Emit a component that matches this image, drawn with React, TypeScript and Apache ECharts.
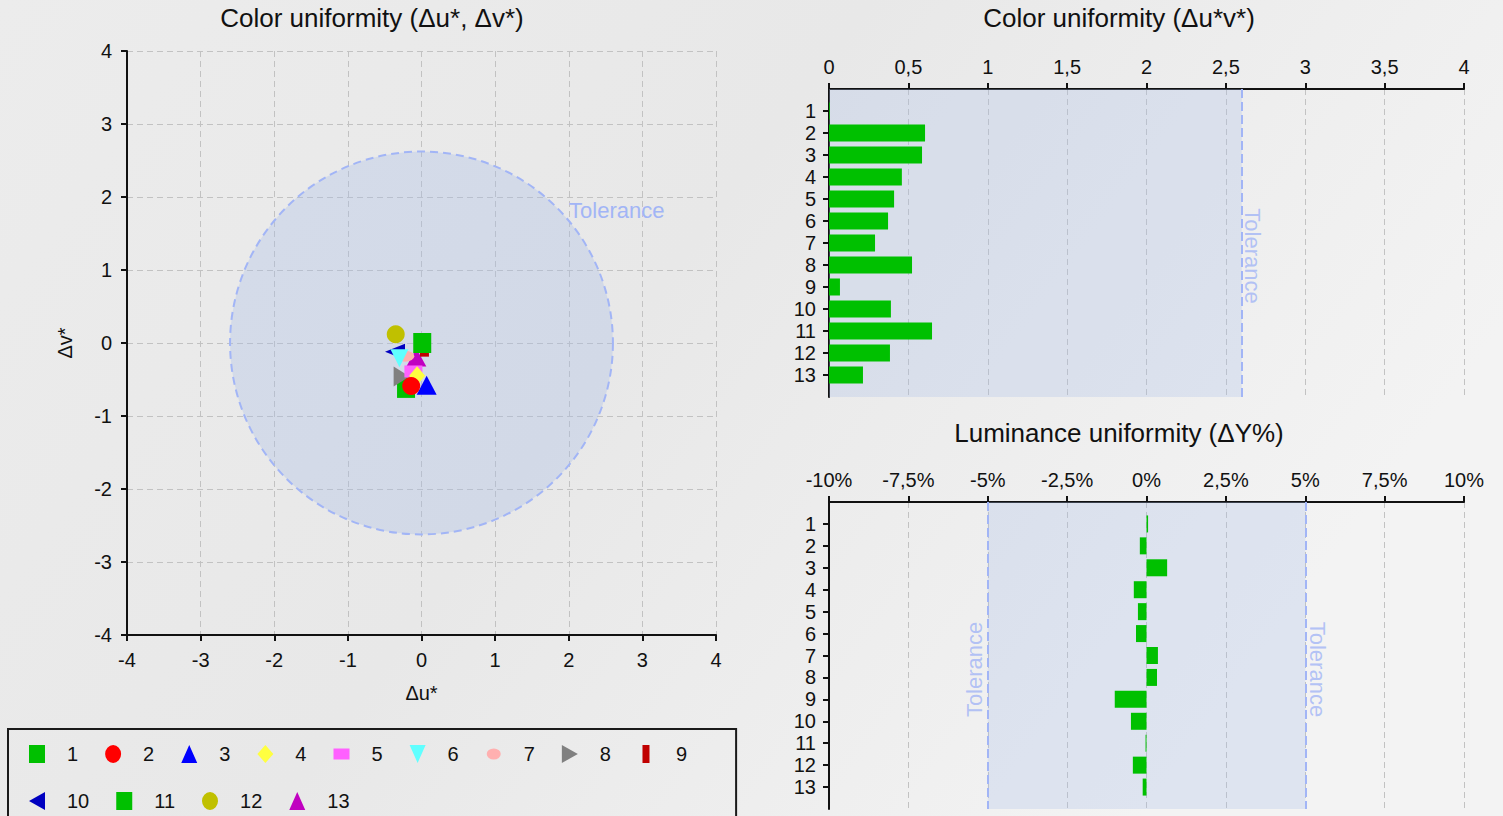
import React, { useEffect, useRef } from 'react';
import * as echarts from 'echarts';

// ---------- data ----------
const pointNames = ['1', '2', '3', '4', '5', '6', '7', '8', '9', '10', '11', '12', '13'];
const duValues = [0.01, -0.14, 0.07, -0.06, -0.11, -0.3, -0.22, -0.27, 0.04, -0.36, -0.21, -0.35, -0.07];
const dvValues = [0.0, -0.59, -0.58, -0.45, -0.39, -0.21, -0.18, -0.46, -0.05, -0.12, -0.615, 0.12, -0.2];
const duvValues = [0.005, 0.605, 0.586, 0.459, 0.41, 0.372, 0.29, 0.523, 0.069, 0.39, 0.649, 0.384, 0.214];
const dYValues = [0.05, -0.21, 0.65, -0.4, -0.27, -0.33, 0.36, 0.33, -1.0, -0.49, -0.03, -0.43, -0.12];
const pointColors = ['#00c000', '#ff0000', '#0000ff', '#ffff40', '#ff60ff', '#60ffff', '#ffb0b0', '#808080', '#c00000', '#0000c0', '#00c000', '#c0c000', '#c000c0'];
const colorTolerance = 2.6;
const lumTolerance = 5;

// ---------- styling ----------
const F = '"Liberation Sans", Arial, sans-serif';
const TOL = '#a2b5f6';
const BAR = '#00c000';
const AREA = 'rgba(170,190,232,0.28)';

const SYM: Record<string, string> = {
  square: 'rect',
  circle: 'circle',
  triUp: 'triangle',
  diamond: 'diamond',
  rect: 'rect',
  triDown: 'path://M0,0L20,0L10,20Z',
  ellipse: 'path://M0,10A10,10,0,1,1,20,10A10,10,0,1,1,0,10Z',
  triRight: 'path://M0,0L20,10L0,20Z',
  triLeft: 'path://M20,0L0,10L20,20Z',
};
const pointShapes = ['square', 'circle', 'triUp', 'diamond', 'rect', 'triDown', 'ellipse', 'triRight', 'rect', 'triLeft', 'square', 'circle', 'triUp'];
const pointSizes: any[] = [[18, 20], 18, [20, 19], [16, 19], [18, 12], [18, 18], [18, 11], [16, 20], [9, 20], [20, 16], [18, 20], 18, [20, 18]];

const FRAME = 'M0,0L0,0.01M33,18L33,17.99';
const LEG: Record<string, string> = {
  square: 'M0,0L16,0L16,18L0,18Z',
  circle: 'M0,9A8,9,0,1,1,16,9A8,9,0,1,1,0,9Z',
  triUp: 'M8,0L16,18L0,18Z',
  diamond: 'M8,0L16,9L8,18L0,9Z',
  rect: 'M0,3.5L16,3.5L16,14.5L0,14.5Z',
  triDown: 'M0,0L16,0L8,18Z',
  ellipse: 'M1,9A7,5.5,0,1,1,15,9A7,5.5,0,1,1,1,9Z',
  triRight: 'M0,0L16,9L0,18Z',
  narrow: 'M4.5,0L11.5,0L11.5,18L4.5,18Z',
  triLeft: 'M16,0L0,9L16,18Z',
};
const legendShapes = ['square', 'circle', 'triUp', 'diamond', 'rect', 'triDown', 'ellipse', 'triRight', 'narrow', 'triLeft', 'square', 'circle', 'triUp'];

const catLabels = ['', ...pointNames, ''];
const fmtComma = (v: number) => String(v).replace('.', ',');

const axisLine = { show: true, onZero: false, lineStyle: { color: '#111', width: 2 } };
const splitLine = { show: true, lineStyle: { color: '#c2c2c2', type: [6, 4], width: 1 } };
const tick = { show: true, length: 6, lineStyle: { color: '#111', width: 2 } };
const lbl = { fontSize: 20, color: '#111', fontFamily: F };
const titleStyle = { fontSize: 26, fontWeight: 'normal', color: '#111', fontFamily: F };

export default function App() {
  const ref = useRef<HTMLDivElement>(null);
  useEffect(() => {
    document.body.style.margin = '0';
    const chart = echarts.init(ref.current!, null, { renderer: 'svg' });

    const scatterSeries = pointNames.map((n, i) => ({
      type: 'scatter',
      name: n,
      xAxisIndex: 0,
      yAxisIndex: 0,
      z: 30 - i,
      symbol: SYM[pointShapes[i]],
      symbolSize: pointSizes[i],
      itemStyle: { color: pointColors[i], opacity: 1 },
      data: [[duValues[i], dvValues[i]]],
    }));

    const option: any = {
      animation: false,
      backgroundColor: {
        type: 'linear', x: 0, y: 0, x2: 1, y2: 0.4,
        colorStops: [
          { offset: 0, color: '#ececec' },
          { offset: 0.5, color: '#e8e8e8' },
          { offset: 1, color: '#f3f3f3' },
        ],
      },
      textStyle: { fontFamily: F },
      title: [
        { text: 'Color uniformity (Δu*, Δv*)', left: 372, textAlign: 'center', top: 5, padding: 0, textStyle: titleStyle },
        { text: 'Color uniformity (Δu*v*)', left: 1119, textAlign: 'center', top: 5, padding: 0, textStyle: titleStyle },
        { text: 'Luminance uniformity (ΔY%)', left: 1119, textAlign: 'center', top: 420, padding: 0, textStyle: titleStyle },
      ],
      legend: {
        data: pointNames.map((n, i) => ({ name: n, icon: 'path://' + FRAME + LEG[legendShapes[i]] })),
        left: 8,
        top: 729,
        width: 690,
        orient: 'horizontal',
        itemWidth: 33,
        itemHeight: 18,
        itemGap: 27,
        symbolKeepAspect: true,
        padding: [15, 49, 20, 21],
        borderColor: '#1a1a1a',
        borderWidth: 2,
        selectedMode: false,
        textStyle: { fontSize: 20, lineHeight: 16, color: '#111', fontFamily: F },
      },
      grid: [
        { left: 127, top: 51, width: 589, height: 584 },
        { left: 829, top: 89, width: 635, height: 308 },
        { left: 829, top: 502, width: 635, height: 307 },
      ],
      xAxis: [
        {
          gridIndex: 0, type: 'value', min: -4, max: 4, interval: 1,
          name: 'Δu*', nameLocation: 'middle', nameGap: 48,
          nameTextStyle: { fontSize: 20, color: '#111', fontFamily: F },
          axisLine, axisTick: tick, splitLine,
          axisLabel: { ...lbl, margin: 15 },
        },
        {
          gridIndex: 1, type: 'value', position: 'top', min: 0, max: 4, interval: 0.5,
          axisLine, axisTick: tick, splitLine,
          axisLabel: { ...lbl, margin: 12, formatter: fmtComma },
        },
        {
          gridIndex: 2, type: 'value', position: 'top', min: -10, max: 10, interval: 2.5,
          axisLine, axisTick: tick, splitLine,
          axisLabel: { ...lbl, margin: 12, formatter: (v: number) => fmtComma(v) + '%' },
        },
      ],
      yAxis: [
        {
          gridIndex: 0, type: 'value', min: -4, max: 4, interval: 1,
          name: 'Δv*', nameLocation: 'middle', nameGap: 52, nameRotate: 90,
          nameTextStyle: { fontSize: 20, color: '#111', fontFamily: F },
          axisLine, axisTick: tick, splitLine,
          axisLabel: { ...lbl, margin: 15 },
        },
        {
          gridIndex: 1, type: 'category', data: catLabels, inverse: true, boundaryGap: false,
          axisLine, splitLine: { show: false },
          axisTick: { ...tick, interval: (i: number, v: string) => v !== '' },
          axisLabel: { ...lbl, margin: 13, interval: 0 },
        },
        {
          gridIndex: 2, type: 'category', data: catLabels, inverse: true, boundaryGap: false,
          axisLine, splitLine: { show: false },
          axisTick: { ...tick, interval: (i: number, v: string) => v !== '' },
          axisLabel: { ...lbl, margin: 13, interval: 0 },
        },
      ],
      series: [
        {
          type: 'custom',
          name: 'tolerance-circle',
          xAxisIndex: 0,
          yAxisIndex: 0,
          z: 1,
          silent: true,
          data: [[0, 0, colorTolerance]],
          renderItem: (params: any, api: any) => {
            const c = api.coord([api.value(0), api.value(1)]);
            const r = api.size([api.value(2), 0])[0];
            return {
              type: 'group',
              children: [
                {
                  type: 'circle',
                  shape: { cx: c[0], cy: c[1], r },
                  style: { fill: 'rgba(168,188,232,0.33)', stroke: TOL, lineWidth: 2, lineDash: [8, 5] },
                },
                {
                  type: 'text',
                  x: c[0] + r * 1.02,
                  y: c[1] - r * 0.69,
                  style: { text: 'Tolerance', fill: TOL, font: '22px ' + F, align: 'center', verticalAlign: 'middle' },
                },
              ],
            };
          },
        },
        ...scatterSeries,
        // top-right: tolerance area, line & label
        {
          type: 'scatter',
          name: 'tol-duv',
          xAxisIndex: 1,
          yAxisIndex: 1,
          z: 1,
          silent: true,
          symbolSize: 1,
          itemStyle: { color: 'rgba(0,0,0,0)' },
          data: [[colorTolerance, '8']],
          label: {
            show: true, position: 'inside', formatter: 'Tolerance', rotate: -90,
            offset: [-9, -11], fontSize: 22, color: TOL, fontFamily: F,
          },
          markArea: {
            silent: true,
            itemStyle: { color: AREA },
            data: [[{ xAxis: 0 }, { xAxis: colorTolerance }]],
          },
          markLine: {
            silent: true, symbol: 'none', label: { show: false },
            lineStyle: { color: TOL, type: [9, 4], width: 2 },
            data: [{ xAxis: colorTolerance }],
          },
        },
        {
          type: 'bar',
          name: 'duv',
          xAxisIndex: 1,
          yAxisIndex: 1,
          z: 3,
          barWidth: 17,
          itemStyle: { color: BAR },
          data: ['-', ...duvValues, '-'],
        },
        // luminance: tolerance area, lines & labels
        {
          type: 'scatter',
          name: 'tol-lum',
          xAxisIndex: 2,
          yAxisIndex: 2,
          z: 1,
          silent: true,
          symbolSize: 1,
          itemStyle: { color: 'rgba(0,0,0,0)' },
          data: [
            { value: [-lumTolerance, '8'], label: { rotate: 90, offset: [8, -13] } },
            { value: [lumTolerance, '8'], label: { rotate: -90, offset: [-8, -12] } },
          ],
          label: {
            show: true, position: 'inside', formatter: 'Tolerance',
            fontSize: 22, color: TOL, fontFamily: F,
          },
          markArea: {
            silent: true,
            itemStyle: { color: AREA },
            data: [[{ xAxis: -lumTolerance }, { xAxis: lumTolerance }]],
          },
          markLine: {
            silent: true, symbol: 'none', label: { show: false },
            lineStyle: { color: TOL, type: [9, 4], width: 2 },
            data: [{ xAxis: -lumTolerance }, { xAxis: lumTolerance }],
          },
        },
        {
          type: 'bar',
          name: 'dY',
          xAxisIndex: 2,
          yAxisIndex: 2,
          z: 3,
          barWidth: 17,
          itemStyle: { color: BAR },
          data: ['-', ...dYValues, '-'],
        },
      ],
    };
    chart.setOption(option);
    return () => chart.dispose();
  }, []);
  return <div ref={ref} style={{ width: 1503, height: 816 }} />;
}
